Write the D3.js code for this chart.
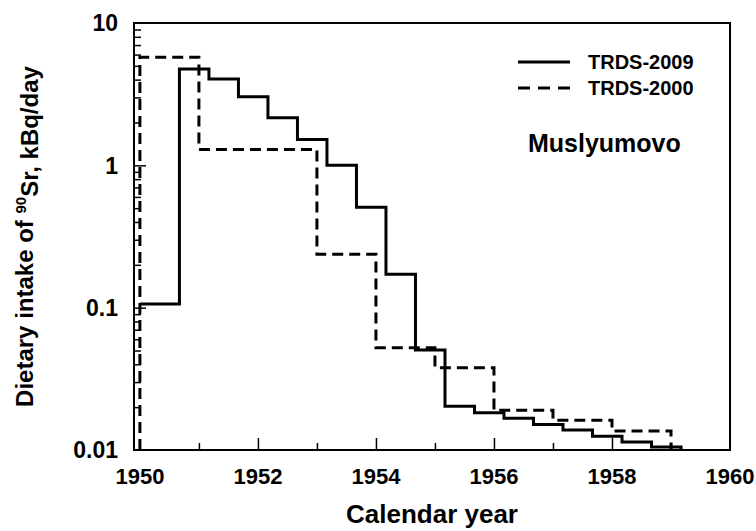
<!DOCTYPE html>
<html>
<head>
<meta charset="utf-8">
<script src="https://cdn.jsdelivr.net/npm/d3@7"></script>
<style>
	body { margin: 0; background: #fff; }
	text { font-family: "Liberation Sans", Arial, sans-serif; font-weight: bold; fill: #000; }
</style>
</head>
<body>
<div id="chart"></div>
<script>
'use strict';

// step edges (calendar year) and the intake value held until the next edge
var trds2009Years = [1950, 1950.67, 1951.17, 1951.67, 1952.17, 1952.67, 1953.17, 1953.67, 1954.17,
	1954.67, 1955.17, 1955.67, 1956.17, 1956.67, 1957.17, 1957.67, 1958.17, 1958.67, 1959.17];
var trds2009Values = [0.106, 4.75, 4.04, 3.03, 2.16, 1.52, 1.0, 0.507, 0.172,
	0.0504, 0.0203, 0.0183, 0.0167, 0.0151, 0.0138, 0.0125, 0.0114, 0.0105];

var trds2000Years = [1950, 1951, 1953, 1954, 1955, 1956, 1957, 1958, 1959];
var trds2000Values = [5.74, 1.29, 0.237, 0.0523, 0.0379, 0.019, 0.0162, 0.0136];

var xTickYears = [1950, 1952, 1954, 1956, 1958, 1960];
var yTickLabels = ['10', '1', '0.1', '0.01'];
var legendNames = ['TRDS-2009', 'TRDS-2000'];

(function() {

var W = 756, H = 531;
var pLeft = 134, pRight = 730, pTop = 23, pBottom = 450;

var svg = d3.select('#chart').append('svg')
	.attr('width', W)
	.attr('height', H);

var x = d3.scaleLinear().domain([1949.9, 1960]).range([pLeft, pRight]);
var y = d3.scaleLog().domain([0.01, 10]).range([pBottom, pTop]);

// minor/major ticks, all pointing inward
var minorY = [];
[0.01, 0.1, 1].forEach(function(d) {
	for (var k = 2; k <= 9; k++) minorY.push(d * k);
});

svg.append('g')
	.attr('transform', 'translate(' + pLeft + ',0)')
	.call(d3.axisRight(y).tickValues(minorY).tickSize(7).tickFormat(''))
	.call(function(g) { g.select('.domain').remove(); })
	.selectAll('line').attr('stroke-width', 1.5);

svg.append('g')
	.attr('transform', 'translate(' + pLeft + ',0)')
	.call(d3.axisRight(y).tickValues([0.1, 1]).tickSize(12).tickFormat(''))
	.call(function(g) { g.select('.domain').remove(); })
	.selectAll('line').attr('stroke-width', 1.5);

svg.append('g')
	.attr('transform', 'translate(0,' + pBottom + ')')
	.call(d3.axisTop(x).tickValues([1951, 1953, 1955, 1957, 1959]).tickSize(7).tickFormat(''))
	.call(function(g) { g.select('.domain').remove(); })
	.selectAll('line').attr('stroke-width', 1.5);

svg.append('g')
	.attr('transform', 'translate(0,' + pBottom + ')')
	.call(d3.axisTop(x).tickValues([1952, 1954, 1956, 1958]).tickSize(12).tickFormat(''))
	.call(function(g) { g.select('.domain').remove(); })
	.selectAll('line').attr('stroke-width', 1.5);

// tick labels
svg.selectAll('text.ytick').data(yTickLabels).enter().append('text')
	.attr('class', 'ytick')
	.attr('x', pLeft - 16)
	.attr('y', function(d) { return y(+d); })
	.attr('dy', '0.36em')
	.attr('text-anchor', 'end')
	.style('font-size', '23px')
	.text(function(d) { return d; });

svg.selectAll('text.xtick').data(xTickYears).enter().append('text')
	.attr('class', 'xtick')
	.attr('x', function(d) { return x(d); })
	.attr('y', pBottom + 34)
	.attr('text-anchor', 'middle')
	.style('font-size', '22px')
	.text(function(d) { return d; });

// step series
svg.append('clipPath').attr('id', 'plot')
	.append('rect')
	.attr('x', pLeft).attr('y', pTop)
	.attr('width', pRight - pLeft).attr('height', pBottom - pTop);

function stepPoints(years, values, fromFloor) {
	var pts = [];
	if (fromFloor) pts.push([years[0], 0.01]);
	values.forEach(function(v, i) {
		pts.push([years[i], v]);
		pts.push([years[i + 1], v]);
	});
	pts.push([years[years.length - 1], 0.01]);
	return pts;
}

var line = d3.line()
	.x(function(d) { return x(d[0]); })
	.y(function(d) { return y(d[1]); });

var plot = svg.append('g').attr('clip-path', 'url(#plot)');

plot.append('path')
	.attr('d', line(stepPoints(trds2000Years, trds2000Values, true)))
	.style('fill', 'none')
	.style('stroke', '#000')
	.style('stroke-width', 3)
	.style('stroke-dasharray', '11,6');

plot.append('path')
	.attr('d', line(stepPoints(trds2009Years, trds2009Values, false)))
	.style('fill', 'none')
	.style('stroke', '#000')
	.style('stroke-width', 3);

// frame
svg.append('rect')
	.attr('x', pLeft).attr('y', pTop)
	.attr('width', pRight - pLeft).attr('height', pBottom - pTop)
	.style('fill', 'none')
	.style('stroke', '#000')
	.style('stroke-width', 2);

// legend
var legend = svg.selectAll('g.legend').data(legendNames).enter().append('g')
	.attr('class', 'legend')
	.attr('transform', function(d, i) { return 'translate(518,' + (62 + i * 26) + ')'; });

legend.append('line')
	.attr('x1', 0).attr('x2', 52)
	.style('stroke', '#000')
	.style('stroke-width', 3)
	.style('stroke-dasharray', function(d, i) { return i ? '12,8' : null; });

legend.append('text')
	.attr('x', 70)
	.attr('dy', '0.36em')
	.style('font-size', '20px')
	.text(function(d) { return d; });

svg.append('text')
	.attr('x', 528)
	.attr('y', 152)
	.style('font-size', '25px')
	.text('Muslyumovo');

// axis titles
svg.append('text')
	.attr('x', (pLeft + pRight) / 2)
	.attr('y', 523)
	.attr('text-anchor', 'middle')
	.style('font-size', '26px')
	.text('Calendar year');

var ytitle = svg.append('text')
	.attr('transform', 'translate(33,' + ((pTop + pBottom) / 2) + ') rotate(-90)')
	.attr('text-anchor', 'middle')
	.style('font-size', '24px');
ytitle.append('tspan').text('Dietary intake of ');
ytitle.append('tspan').attr('dy', '-0.5em').style('font-size', '15px').text('90');
ytitle.append('tspan').attr('dy', '0.5em').text('Sr, kBq/day');

})();
</script>
</body>
</html>
